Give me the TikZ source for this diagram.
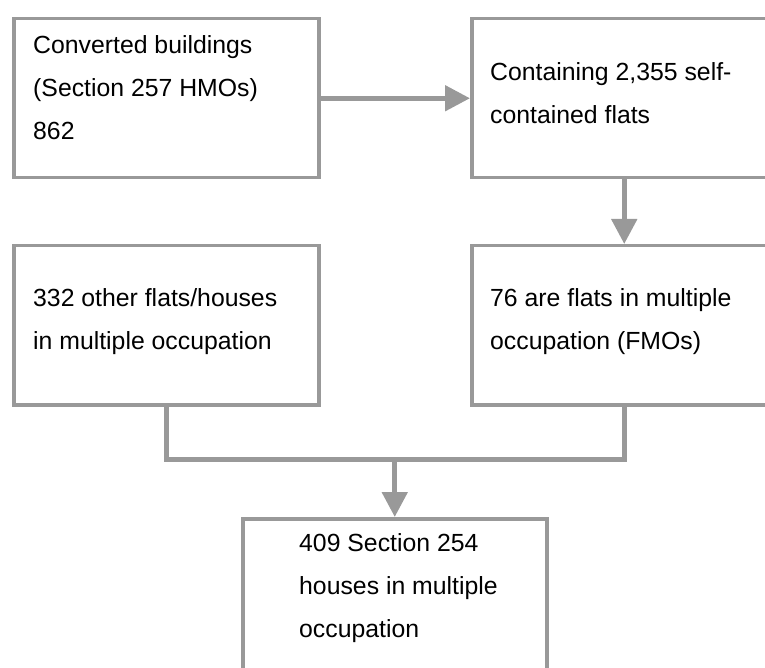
\documentclass[tikz,border=0pt]{standalone}
\usepackage{fontspec}
\setmainfont{Liberation Sans}
\usepackage{xcolor}
\usepackage{tikz}
\usetikzlibrary{arrows.meta, positioning, calc}
\definecolor{linegray}{RGB}{153,153,153}

\begin{document}
\begin{tikzpicture}[x=1pt, y=-1pt,
  box/.style={draw=linegray, line width=3.5pt, minimum width=305pt,
              minimum height=159pt, inner sep=0pt, anchor=north west},
  txt/.style={font=\fontsize{24.8}{43}\selectfont, align=left,
              inner sep=0pt, anchor=north west},
  arrow/.style={-{Triangle[length=25pt, width=25pt]}, line width=5pt, linegray},
  conn/.style={line width=5pt, linegray},
]
\useasboundingbox (0,0) rectangle (765,668);
\clip (0,0) rectangle (765,668);

% boxes
\node[box] (conv) at (12,17) {};
\node[box] (selfcont) at (470,17) {};
\node[box] (other) at (12,244) {};
\node[box] (fmo) at (470,244) {};
\node[box, minimum width=304pt] (hmo) at (241,517) {};

% texts
\node[txt, below right=18pt and 21pt of conv.north west] (convtxt)
  {Converted buildings\\(Section 257 HMOs)\\862};
\node[txt, below right=45pt and 20pt of selfcont.north west] (selfconttxt)
  {Containing 2,355 self-\\contained flats};
\node[txt, below right=44pt and 21pt of other.north west] (othertxt)
  {332 other flats/houses\\in multiple occupation};
\node[txt, below right=44pt and 20pt of fmo.north west] (fmotxt)
  {76 are flats in multiple\\occupation (FMOs)};
\node[txt, below right=16pt and 58pt of hmo.north west] (hmotxt)
  {409 Section 254\\houses in multiple\\occupation};

% connectors
\coordinate (join) at ($(hmo.north)+(0,-58)$);
\draw[arrow] (conv.east) -- (selfcont.west);
\draw[arrow] (selfcont.south) -- (fmo.north);
\draw[conn] (other.south) |- (join) -| (fmo.south);
\draw[arrow] (join) -- (hmo.north);
\end{tikzpicture}
\end{document}
